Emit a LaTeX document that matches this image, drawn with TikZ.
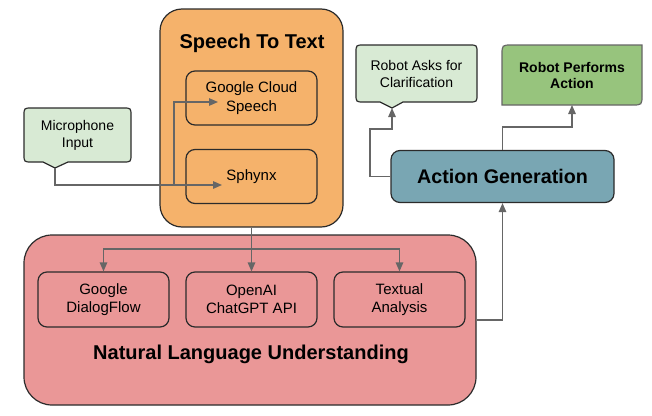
\documentclass[tikz,border=0pt]{standalone}
\usepackage{fontspec}
\setmainfont{Liberation Sans}
\usetikzlibrary{arrows.meta}
\definecolor{sttfill}{HTML}{F5B26B}
\definecolor{nlufill}{HTML}{EA9797}
\definecolor{callfill}{HTML}{D8EAD4}
\definecolor{agfill}{HTML}{79A6B3}
\definecolor{rpafill}{HTML}{97C47D}
\definecolor{boxline}{HTML}{2B2B2B}
\definecolor{arrline}{HTML}{666666}
\begin{document}
\begin{tikzpicture}[x=1pt,y=-1pt,
  box/.style={draw=boxline, line width=1.2pt, rounded corners=9pt, inner sep=0pt,
    minimum width=131pt, minimum height=54pt, align=center,
    font=\fontsize{15}{18.5}\selectfont},
  container/.style={draw=boxline, line width=1.2pt, inner sep=0pt},
  title/.style={font=\fontsize{20}{24}\selectfont\bfseries, anchor=base, inner sep=0pt},
  calltext/.style={align=center, inner sep=0pt, font=\fontsize{14}{17}\selectfont},
  callshape/.style={draw=boxline, line width=1.2pt, fill=callfill},
  arr/.style={draw=arrline, line width=1.3pt, -{Triangle[length=9pt,width=7.5pt]}},
  ln/.style={draw=arrline, line width=1.3pt}]
\useasboundingbox (0,0) rectangle (652,415);

% containers
\node[container, fill=sttfill, rounded corners=22pt, minimum width=183pt, minimum height=218pt] (stt) at (251.5,118) {};
\node[title] (stttitle) at (252,48) {Speech To Text};
\node[container, fill=nlufill, rounded corners=28pt, minimum width=452pt, minimum height=170pt] (nlu) at (250,320) {};
\node[title] (nlutitle) at (251,359) {Natural Language Understanding};

% inner boxes
\node[box, fill=sttfill] (gcs) at (251.5,98) {Google Cloud\\Speech};
\node[box, fill=sttfill] (sphynx) at (251.5,176.5) {Sphynx};
\node[box, fill=nlufill, minimum height=55pt] (dialog) at (103.5,299.5) {Google\\DialogFlow};
\node[box, fill=nlufill, minimum height=55pt] (openai) at (251.5,299.5) {OpenAI\\ChatGPT API};
\node[box, fill=nlufill, minimum height=55pt] (textual) at (399.5,299.5) {Textual\\Analysis};

% action generation
\node[box, fill=agfill, minimum width=223pt, minimum height=52pt, font=\fontsize{19.7}{24}\selectfont\bfseries] (ag) at (502.5,176.5) {Action Generation};

% microphone callout
\path[callshape] (32,108) -- (123,108) .. controls (131,108) .. (131,116) -- (131,154)
  .. controls (131,162) .. (123,162) -- (68,162) -- (55,168) -- (43,162) -- (32,162)
  .. controls (24,162) .. (24,154) -- (24,116) .. controls (24,108) .. (32,108) -- cycle;
\node[calltext] (mic) at (77.5,135) {Microphone\\Input};
\coordinate (mictip) at (55,168);

% robot asks callout
\path[callshape] (364,45) -- (469,45) .. controls (477,45) .. (477,53) -- (477,94)
  .. controls (477,102) .. (469,102) -- (403,102) -- (392,108) -- (380,102) -- (364,102)
  .. controls (356,102) .. (356,94) -- (356,53) .. controls (356,45) .. (364,45) -- cycle;
\node[calltext] (ask) at (416.5,73.5) {Robot Asks for\\Clarification};
\coordinate (asktip) at (392,108);

% robot performs action
\path[draw=arrline, line width=1.2pt, fill=rpafill] (502,105) -- (502,55) .. controls (502,45) .. (512,45)
  -- (642,45) -- (642,95) .. controls (642,105) .. (632,105) -- cycle;
\node[calltext, font=\fontsize{14}{16}\selectfont\bfseries] (rpa) at (572,75) {Robot Performs\\Action};
\coordinate (rpabottom) at (572,105);

% connector helper coordinates
\coordinate (sphynxin) at (222,185);
\coordinate (branch) at (174,185);
\coordinate (gcsin) at (218,102);
\coordinate (split) at (251.5,249);
\coordinate (askbend) at (370,129);
\coordinate (askturn) at (392,129);
\coordinate (rpabend) at (572,127);

% connectors
\draw[arr] (mictip) |- (sphynxin);
\draw[arr] (branch) |- (gcsin);
\draw[ln] (stt.south) -- (split);
\draw[arr] (split) -- (openai.north);
\draw[arr] (split) -| (dialog.north);
\draw[arr] (split) -| (textual.north);
\draw[arr] (nlu.east) -| (ag.south);
\draw[arr] (ag.west) -| (askbend) -- (askturn) -- (asktip);
\draw[arr] (ag.north) |- (rpabend) -- (rpabottom);
\end{tikzpicture}
\end{document}
